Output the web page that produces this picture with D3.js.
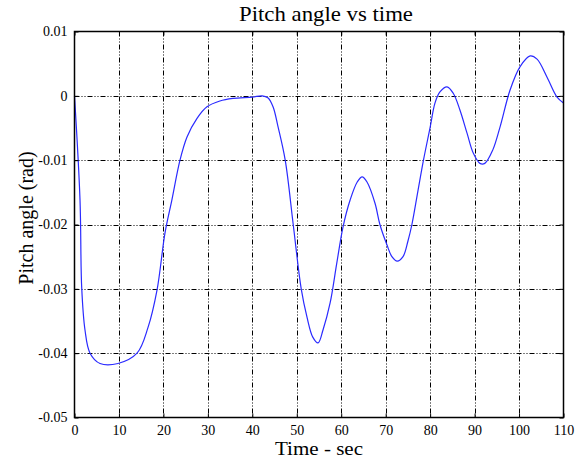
<!DOCTYPE html>
<html>
<head>
<meta charset="utf-8">
<script src="https://cdn.jsdelivr.net/npm/d3@7/dist/d3.min.js"></script>
<style>
  html, body { margin: 0; padding: 0; background: #fff; }
  svg { display: block; }
  text { font-family: "Liberation Serif", "Times New Roman", serif; fill: #000; }
</style>
</head>
<body>
<svg id="chart" width="587" height="463"></svg>
<script>
// Pitch angle response over time
const timeSec = [0, 1.24, 1.62, 2.36, 3.49, 5.74, 9.79, 14.06, 16.54, 18.56, 20.36, 21.9, 23.73, 25.31, 27.56, 29.8,
  32.7, 35.66, 40.0, 42.2, 43.5, 44.66, 45.78, 47.4, 49.2, 51.0, 52.3, 53.6, 54.8, 55.9, 57.5, 59.0,
  60.4, 62.0, 63.6, 64.7, 65.8, 67.6, 68.7, 70.3, 71.4, 72.6, 73.9, 75.0, 75.9, 77.2, 78.5, 80.0, 81.1, 82.2,
  83.8, 85.2, 86.7, 88.3, 89.7, 91.2, 92.3, 94.1, 95.7, 97.98, 100.2, 102.5, 104.05, 106.3, 108.55, 110];
const pitchRad = [0, -0.0162, -0.0298, -0.0364, -0.0400, -0.0416, -0.0416, -0.0400, -0.0360, -0.0302, -0.0213, -0.0162,
  -0.0100, -0.0064, -0.0035, -0.0017, -0.0008, -0.0004, -0.0002, 0.0000, -0.0003, -0.0017, -0.0048, -0.0100,
  -0.0200, -0.0300, -0.0344, -0.0375, -0.0384, -0.0364, -0.0322, -0.0260, -0.0204, -0.0162,
  -0.0134, -0.0126, -0.0134, -0.0167, -0.0200, -0.0232, -0.0250, -0.0257, -0.0250, -0.0226, -0.0200, -0.0150,
  -0.0100, -0.0049, -0.0011, 0.0006, 0.0014, 0.0004, -0.0022, -0.0058, -0.0089, -0.0105, -0.0105, -0.0084,
  -0.0049, 0.0009, 0.0045, 0.0062, 0.0057, 0.0029, -0.0002, -0.0011];

const xTicks = [0, 10, 20, 30, 40, 50, 60, 70, 80, 90, 100, 110];
const yTicks = [0.01, 0, -0.01, -0.02, -0.03, -0.04, -0.05];
const yTickLabels = ["0.01", "0", "-0.01", "-0.02", "-0.03", "-0.04", "-0.05"];

const svg = d3.select("#chart");
const pLeft = 74.5, pRight = 563.5, pTop = 31.5, pBottom = 417.5;

const x = d3.scaleLinear().domain([0, 110]).range([pLeft, pRight]);
const y = d3.scaleLinear().domain([-0.05, 0.01]).range([pBottom, pTop]);

const dash = "5,2,1,2,1,2";

// grid
const grid = svg.append("g");
grid.selectAll("line.gx").data(xTicks.slice(1, -1)).join("line")
  .attr("x1", d => Math.round(x(d)) + 0.5).attr("x2", d => Math.round(x(d)) + 0.5)
  .attr("y1", pTop).attr("y2", pBottom)
  .attr("stroke", "#000").attr("stroke-width", 1).attr("stroke-dasharray", dash);
grid.selectAll("line.gy").data(yTicks.slice(1, -1)).join("line")
  .attr("y1", d => Math.round(y(d)) + 0.5).attr("y2", d => Math.round(y(d)) + 0.5)
  .attr("x1", pLeft).attr("x2", pRight)
  .attr("stroke", "#000").attr("stroke-width", 1).attr("stroke-dasharray", dash);

// curve
const line = d3.line().x((d, i) => x(timeSec[i])).y(d => y(d)).curve(d3.curveCatmullRom.alpha(0.5));
svg.append("path").datum(pitchRad)
  .attr("d", line)
  .attr("fill", "none").attr("stroke", "#2a2aff").attr("stroke-width", 1.2);

// axes with inward ticks
const tickLen = 4;
const xAxis = d3.axisBottom(x).tickValues(xTicks).tickSizeInner(-tickLen).tickSizeOuter(0).tickPadding(8);
const yAxis = d3.axisLeft(y).tickValues(yTicks).tickFormat((d, i) => yTickLabels[i])
  .tickSizeInner(-tickLen).tickSizeOuter(0).tickPadding(7);

const gx = svg.append("g").attr("transform", `translate(0,${pBottom})`).call(xAxis);
const gy = svg.append("g").attr("transform", `translate(${pLeft},0)`).call(yAxis);
svg.append("g").attr("transform", `translate(0,${pTop})`)
  .call(d3.axisTop(x).tickValues(xTicks).tickSizeInner(-tickLen).tickSizeOuter(0).tickFormat(""));
svg.append("g").attr("transform", `translate(${pRight},0)`)
  .call(d3.axisRight(y).tickValues(yTicks).tickSizeInner(-tickLen).tickSizeOuter(0).tickFormat(""));

svg.selectAll(".domain").remove();
svg.selectAll(".tick line").attr("stroke", "#000");
[gx, gy].forEach(g => g.selectAll("text")
  .style("font-family", '"Liberation Serif", "Times New Roman", serif')
  .style("font-size", "14px").attr("fill", "#000"));

// frame
svg.append("rect").attr("x", pLeft).attr("y", pTop).attr("width", pRight - pLeft).attr("height", pBottom - pTop)
  .attr("fill", "none").attr("stroke", "#000").attr("stroke-width", 1.5);

// titles
svg.append("text").attr("x", 326).attr("y", 21).attr("text-anchor", "middle")
  .attr("textLength", 174).attr("lengthAdjust", "spacingAndGlyphs")
  .style("font-size", "21px").text("Pitch angle vs time");
svg.append("text").attr("x", 319).attr("y", 455).attr("text-anchor", "middle")
  .attr("textLength", 88).attr("lengthAdjust", "spacingAndGlyphs")
  .style("font-size", "18px").text("Time - sec");
svg.append("text").attr("transform", "translate(33,218) rotate(-90)")
  .attr("text-anchor", "middle").style("font-size", "20px").text("Pitch angle (rad)");
</script>
</body>
</html>
